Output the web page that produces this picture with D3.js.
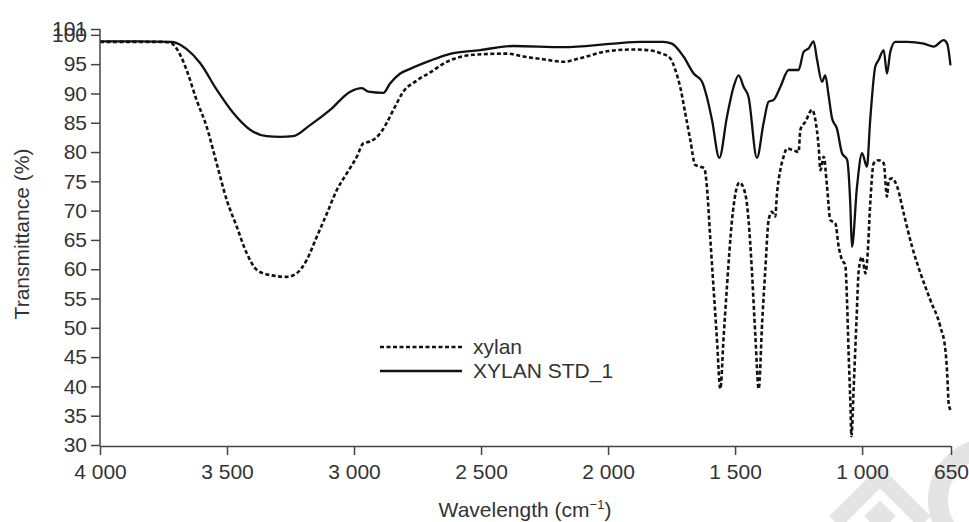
<!DOCTYPE html>
<html lang="en">
    <head>
        <meta charset="utf-8">
        <title>FTIR spectrum of xylan</title>
        <script src="https://d3js.org/d3.v7.min.js"></script>
        <style type="text/css">
        body { margin: 0; background: #fff; }
        .tick text, .label, .legend {
            font-family: "Liberation Sans", Arial, sans-serif;
            font-size: 21px;
            fill: #333;
        }
        </style>
    </head>
    <body>
        <svg width="969" height="522"></svg>

    <script type="text/javascript">

    // x ticks (wavenumber, cm-1) and y ticks (%)
    const xTicks = [4000, 3500, 3000, 2500, 2000, 1500, 1000, 650];
    const yTicks = [30, 35, 40, 45, 50, 55, 60, 65, 70, 75, 80, 85, 90, 95, 100, 101];

    // xylan (dashed) : wavenumber, transmittance
    const xylanWave = [4000, 3850, 3760, 3724, 3704, 3680, 3659, 3620, 3580, 3541, 3501, 3462, 3422, 3383, 3330, 3265, 3226, 3186, 3147, 3107, 3068, 3028, 2989, 2963, 2937, 2897, 2871, 2845, 2806, 2753, 2700, 2635, 2530, 2399, 2333, 2250, 2176, 2110, 2005, 1900, 1847, 1795, 1755, 1735, 1716, 1696, 1676, 1657, 1637, 1621, 1611, 1598, 1585, 1572, 1558, 1545, 1532, 1512, 1483, 1460, 1447, 1434, 1420, 1407, 1393, 1381, 1368, 1355, 1342, 1335, 1322, 1309, 1296, 1270, 1250, 1243, 1223, 1197, 1184, 1171, 1164, 1151, 1138, 1125, 1105, 1092, 1079, 1066, 1059, 1053, 1046, 1042, 1033, 1022, 1013, 1000, 987, 978, 968, 954, 935, 915, 902, 895, 882, 862, 836, 803, 770, 731, 692, 672, 665, 659, 652];
    const xylanT = [98.8, 98.8, 98.8, 98.7, 98.0, 96.2, 94.0, 88.9, 84.3, 78.1, 71.8, 67.3, 62.7, 59.9, 59.0, 58.7, 59.3, 61.6, 65.5, 69.5, 73.5, 76.4, 79.2, 81.5, 81.8, 83.2, 85.0, 87.2, 90.3, 92.2, 93.6, 95.4, 96.6, 96.8, 96.3, 95.8, 95.4, 96.0, 97.2, 97.5, 97.4, 96.9, 96.0, 94.0, 91.1, 86.6, 82.0, 77.8, 77.5, 77.2, 74.1, 65.5, 57.0, 48.5, 39.6, 48.5, 57.0, 68.4, 74.8, 72.9, 68.4, 59.9, 48.5, 39.6, 51.3, 59.9, 68.4, 69.8, 69.0, 72.9, 76.9, 79.2, 80.6, 80.3, 80.0, 83.8, 85.2, 87.2, 85.5, 80.9, 76.9, 79.2, 74.1, 68.4, 67.8, 63.8, 61.6, 60.7, 54.2, 45.6, 37.1, 31.5, 39.9, 51.3, 59.9, 62.1, 59.3, 62.7, 71.2, 78.1, 78.6, 78.1, 72.4, 75.2, 75.5, 74.1, 69.5, 63.8, 59.3, 54.7, 50.2, 46.2, 42.2, 37.0, 36.0];

    // XYLAN STD_1 (solid)
    const stdWave = [4000, 3850, 3720, 3698, 3660, 3606, 3540, 3476, 3409, 3344, 3290, 3240, 3173, 3094, 3015, 2969, 2944, 2885, 2858, 2818, 2779, 2700, 2635, 2503, 2373, 2176, 1979, 1873, 1783, 1749, 1703, 1663, 1630, 1611, 1591, 1562, 1532, 1506, 1486, 1466, 1447, 1414, 1388, 1368, 1348, 1322, 1289, 1256, 1250, 1230, 1210, 1191, 1177, 1158, 1145, 1132, 1118, 1099, 1079, 1059, 1046, 1040, 1020, 1000, 981, 968, 948, 935, 915, 902, 889, 869, 823, 757, 718, 679, 665, 652];
    const stdT = [98.9, 98.9, 98.8, 98.6, 97.6, 95.2, 90.6, 86.7, 83.8, 82.7, 82.6, 82.7, 84.6, 87.2, 90.3, 90.9, 90.3, 90.1, 91.7, 93.4, 94.2, 95.6, 96.6, 97.4, 98.1, 97.9, 98.5, 98.8, 98.8, 98.5, 96.3, 93.4, 92.0, 89.4, 85.5, 79.0, 86.0, 91.1, 93.1, 91.1, 89.4, 79.0, 84.9, 88.6, 88.9, 91.1, 94.0, 94.0, 94.0, 97.1, 97.7, 98.9, 95.7, 92.0, 93.1, 89.7, 85.7, 84.0, 79.8, 78.7, 70.7, 63.8, 74.1, 79.8, 77.5, 85.5, 94.6, 95.7, 97.4, 93.4, 97.1, 98.8, 98.8, 98.5, 98.0, 99.1, 98.5, 94.8];

    const legendNames = ["xylan", "XYLAN STD_1"];

    const svg = d3.select("svg");
    const axisColor = "#444";

    // scales
    const xScale = d3.scaleLinear()
                     .domain([4000, 650])
                     .range([100, 951]);

    const yScale = d3.scaleLinear()
                     .domain([30, 101])
                     .range([445, 29]);

    // faint watermark in the bottom right corner
    const mark = svg.append("g")
                    .attr("fill", "none")
                    .attr("stroke", "#e4e4e4");
    mark.append("circle")
        .attr("cx", 990).attr("cy", 500)
        .attr("r", 52)
        .attr("stroke-width", 20);
    mark.append("path")
        .attr("d", "M835,522 L880,477 L925,522 M870,522 L880,512 L890,522")
        .attr("stroke-width", 16);

    const line = d3.line()
                   .x(d => xScale(d[0]))
                   .y(d => yScale(d[1]))
                   .curve(d3.curveMonotoneX);

    const xylan = d3.zip(xylanWave, xylanT);
    const std = d3.zip(stdWave, stdT);

    svg.append("path")
       .datum(xylan)
       .attr("fill", "none")
       .attr("stroke", "#111")
       .attr("stroke-width", 2.6)
       .attr("stroke-dasharray", "4,2.5")
       .attr("d", line);

    svg.append("path")
       .datum(std)
       .attr("fill", "none")
       .attr("stroke", "#111")
       .attr("stroke-width", 2.3)
       .attr("stroke-linejoin", "round")
       .attr("d", line);

    // axes
    const bottomAxis = d3.axisBottom(xScale)
                         .tickValues(xTicks)
                         .tickSize(9)
                         .tickPadding(6)
                         .tickSizeOuter(0)
                         .tickFormat(d => d >= 1000 ? Math.floor(d / 1000) + " " + d3.format("03d")(d % 1000) : d);

    const leftAxis = d3.axisLeft(yScale)
                       .tickValues(yTicks)
                       .tickSize(9)
                       .tickPadding(4)
                       .tickSizeOuter(0);

    const gx = svg.append("g")
                  .attr("transform", "translate(0,446)")
                  .call(bottomAxis);

    const gy = svg.append("g")
                  .attr("transform", "translate(100,0)")
                  .call(leftAxis);

    [gx, gy].forEach(g => {
        g.attr("font-family", null).attr("font-size", null);
        g.select(".domain").attr("stroke", axisColor).attr("stroke-width", 1.5);
        g.selectAll(".tick line").attr("stroke", axisColor).attr("stroke-width", 1.5);
        g.selectAll(".tick text").style("font-size", "21px");
    });
    gy.select(".domain").attr("d", "M0,446V29");
    gx.selectAll(".tick text").attr("dy", "0.88em");

    // axis titles
    const xTitle = svg.append("text")
                      .attr("class", "label")
                      .attr("x", 525)
                      .attr("y", 517)
                      .attr("text-anchor", "middle")
                      .text("Wavelength (cm");
    xTitle.append("tspan")
          .attr("dy", -8)
          .style("font-size", "13px")
          .text("\u22121");
    xTitle.append("tspan")
          .attr("dy", 8)
          .text(")");

    svg.append("text")
       .attr("class", "label")
       .attr("transform", "translate(29,234) rotate(-90)")
       .attr("text-anchor", "middle")
       .text("Transmittance (%)");

    // legend
    const legend = svg.append("g")
                      .selectAll("g")
                      .data(legendNames)
                      .enter()
                      .append("g")
                      .attr("transform", (d, i) => "translate(380," + (347 + i * 24) + ")");

    legend.append("line")
          .attr("x1", 0).attr("x2", 82)
          .attr("stroke", "#111")
          .attr("stroke-width", (d, i) => i === 0 ? 2.6 : 2.3)
          .attr("stroke-dasharray", (d, i) => i === 0 ? "4,2.5" : null);

    legend.append("text")
          .attr("class", "legend")
          .attr("x", 93)
          .attr("dy", "0.35em")
          .text(d => d);

    </script>
    </body>
</html>
